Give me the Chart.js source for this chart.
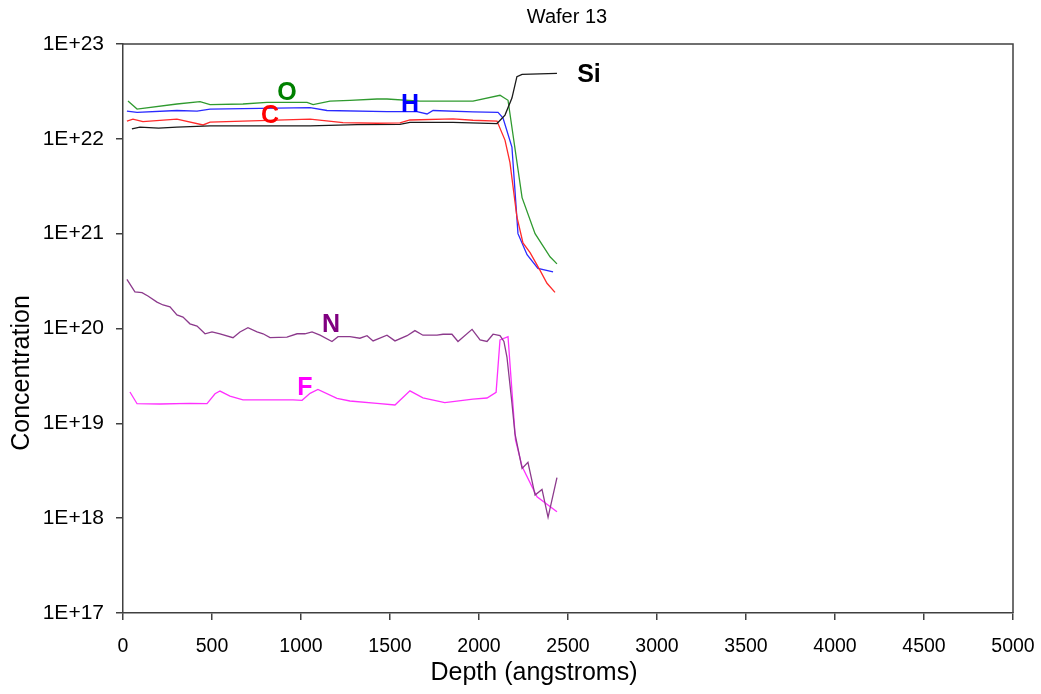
<!DOCTYPE html>
<html>
<head>
<meta charset="utf-8">
<script src="https://cdn.jsdelivr.net/npm/chart.js@4"></script>
<style>
  body { margin: 0; background: #fff; }
  canvas { display: block; }
</style>
</head>
<body>
<canvas id="waferChart" width="1041" height="694"></canvas>
<script>
// depth in angstroms, concentration in atoms/cm3
const siDepth = [50, 95, 200, 303, 489, 1051, 1315, 1556, 1612, 1854, 2101, 2146, 2185, 2213, 2242, 2438];
const siConc = [1.27e22, 1.33e22, 1.30e22, 1.33e22, 1.37e22, 1.37e22, 1.41e22, 1.42e22, 1.49e22, 1.49e22, 1.45e22, 1.78e22, 2.69e22, 4.52e22, 4.79e22, 4.9e22];

const cDepth = [22, 56, 112, 303, 450, 489, 674, 1051, 1236, 1427, 1556, 1612, 1854, 1966, 2101, 2146, 2174, 2213, 2247, 2287, 2343, 2382, 2427];
const cConc = [1.54e22, 1.61e22, 1.52e22, 1.61e22, 1.40e22, 1.50e22, 1.54e22, 1.61e22, 1.48e22, 1.46e22, 1.47e22, 1.58e22, 1.62e22, 1.57e22, 1.54e22, 9.7e21, 5.6e21, 1.5e21, 8.0e20, 6.3e20, 4.1e20, 3.0e20, 2.4e20];

const hDepth = [22, 79, 303, 416, 489, 1051, 1146, 1483, 1652, 1708, 1742, 1966, 2107, 2135, 2185, 2219, 2270, 2331, 2416];
const hConc = [1.96e22, 1.90e22, 1.99e22, 1.96e22, 2.06e22, 2.13e22, 1.99e22, 1.94e22, 1.94e22, 1.83e22, 1.99e22, 1.92e22, 1.90e22, 1.66e22, 8.2e21, 1.0e21, 6.0e20, 4.3e20, 3.95e20];

const oDepth = [28, 79, 303, 433, 489, 674, 809, 1034, 1068, 1163, 1275, 1427, 1483, 1668, 1966, 2118, 2163, 2242, 2315, 2399, 2438];
const oConc = [2.5e22, 2.06e22, 2.33e22, 2.47e22, 2.3e22, 2.33e22, 2.42e22, 2.42e22, 2.3e22, 2.5e22, 2.55e22, 2.63e22, 2.63e22, 2.5e22, 2.5e22, 2.88e22, 2.55e22, 2.4e21, 1.0e21, 5.7e20, 4.8e20];

const nDepth = [22, 67, 107, 140, 191, 225, 264, 303, 337, 376, 416, 461, 500, 545, 618, 657, 702, 753, 787, 826, 921, 978, 1022, 1062, 1107, 1174, 1208, 1275, 1331, 1371, 1405, 1483, 1528, 1596, 1640, 1685, 1764, 1798, 1848, 1882, 1961, 2006, 2045, 2079, 2118, 2140, 2157, 2185, 2202, 2242, 2275, 2315, 2354, 2388, 2438];
const nConc = [3.3e20, 2.43e20, 2.39e20, 2.2e20, 1.9e20, 1.77e20, 1.69e20, 1.39e20, 1.32e20, 1.12e20, 1.06e20, 0.88e20, 0.92e20, 0.88e20, 0.80e20, 0.92e20, 1.02e20, 0.92e20, 0.88e20, 0.80e20, 0.81e20, 0.88e20, 0.88e20, 0.92e20, 0.85e20, 0.73e20, 0.82e20, 0.82e20, 0.79e20, 0.84e20, 0.74e20, 0.85e20, 0.74e20, 0.84e20, 0.95e20, 0.85e20, 0.85e20, 0.87e20, 0.87e20, 0.73e20, 0.98e20, 0.76e20, 0.73e20, 0.87e20, 0.84e20, 0.73e20, 0.5e20, 1.64e19, 7.8e18, 3.35e18, 3.88e18, 1.75e18, 2.01e18, 1.02e18, 2.67e18];

const fDepth = [39, 79, 208, 376, 472, 517, 545, 601, 674, 955, 1006, 1051, 1095, 1202, 1275, 1427, 1528, 1612, 1685, 1808, 1966, 2045, 2096, 2118, 2163, 2205, 2242, 2326, 2438];
const fConc = [2.14e19, 1.61e19, 1.60e19, 1.62e19, 1.61e19, 2.05e19, 2.19e19, 1.94e19, 1.77e19, 1.77e19, 1.75e19, 2.07e19, 2.28e19, 1.83e19, 1.72e19, 1.62e19, 1.56e19, 2.2e19, 1.86e19, 1.65e19, 1.80e19, 1.85e19, 2.12e19, 7.56e19, 8.2e19, 6.7e18, 3.5e18, 1.68e18, 1.17e18];

const xTicks = [0, 500, 1000, 1500, 2000, 2500, 3000, 3500, 4000, 4500, 5000];
const yTicks = [1e17, 1e18, 1e19, 1e20, 1e21, 1e22, 1e23];
const yTickLabels = ['1E+17', '1E+18', '1E+19', '1E+20', '1E+21', '1E+22', '1E+23'];

// element labels placed in data space: [text, depth, concentration, colour]
const elementLabels = [
    ['O', 921, 3.04e22, '#008000'],
    ['C', 826, 1.74e22, '#ff0000'],
    ['H', 1612, 2.27e22, '#0000ff'],
    ['Si', 2618, 4.7e22, '#000000'],
    ['N', 1168, 1.09e20, '#800080'],
    ['F', 1022, 2.36e19, '#ff00ff']
];

function pts(xs, ys) {
    return xs.map((x, i) => ({ x: x, y: ys[i] }));
}

function series(data, color) {
    return { data: data, borderColor: color, borderWidth: 1.3, pointRadius: 0, tension: 0, fill: false };
}

const axisColor = '#404040';
const fontFamily = 'Arial, "Liberation Sans"';

function text(ctx, str, x, y, font, color) {
    ctx.save();
    ctx.font = font;
    ctx.fillStyle = color;
    ctx.textAlign = 'center';
    ctx.textBaseline = 'middle';
    ctx.fillText(str, x, y);
    ctx.restore();
}

const decorations = {
    id: 'decorations',
    afterDraw(chart) {
        const ctx = chart.ctx;
        const a = chart.chartArea;
        const xs = chart.scales.x, ys = chart.scales.y;
        ctx.save();
        ctx.strokeStyle = axisColor;
        ctx.lineWidth = 1.5;
        ctx.beginPath();
        ctx.moveTo(a.left, a.top);
        ctx.lineTo(a.right, a.top);
        ctx.lineTo(a.right, a.bottom);
        ctx.stroke();
        ctx.restore();

        text(ctx, 'Wafer 13', 567, 17, '20px ' + fontFamily, '#000');
        text(ctx, 'Depth (angstroms)', 534, 673, '25px ' + fontFamily, '#000');

        ctx.save();
        ctx.translate(22, 373);
        ctx.rotate(-Math.PI / 2);
        text(ctx, 'Concentration', 0, 0, '25px ' + fontFamily, '#000');
        ctx.restore();

        elementLabels.forEach(l => {
            text(ctx, l[0], xs.getPixelForValue(l[1]), ys.getPixelForValue(l[2]),
                'bold 25px ' + fontFamily, l[3]);
        });
    }
};

const ctx = document.getElementById('waferChart').getContext('2d');
new Chart(ctx, {
    type: 'line',
    data: {
        datasets: [
            series(pts(siDepth, siConc), '#1a1a1a'),
            series(pts(cDepth, cConc), '#ff2a2a'),
            series(pts(hDepth, hConc), '#2a2aff'),
            series(pts(oDepth, oConc), '#2f9a2f'),
            series(pts(nDepth, nConc), '#8c3a8c'),
            series(pts(fDepth, fConc), '#ff30ff')
        ]
    },
    options: {
        responsive: false,
        animation: false,
        devicePixelRatio: 1,
        layout: { padding: { top: 44, right: 28, left: 0, bottom: 0 } },
        plugins: {
            legend: { display: false },
            tooltip: { enabled: false }
        },
        scales: {
            x: {
                type: 'linear',
                min: 0,
                max: 5000,
                afterBuildTicks: s => { s.ticks = xTicks.map(v => ({ value: v })); },
                afterFit: s => { s.height = 81; s.paddingLeft = 0; s.paddingRight = 0; },
                ticks: {
                    color: '#000',
                    font: { family: fontFamily, size: 19.5 },
                    padding: 15,
                    maxRotation: 0,
                    callback: v => String(v)
                },
                grid: { drawOnChartArea: false, tickLength: 7, color: axisColor, lineWidth: 1.5 },
                border: { color: axisColor, width: 1.5 }
            },
            y: {
                type: 'logarithmic',
                min: 1e17,
                max: 1e23,
                afterBuildTicks: s => { s.ticks = yTicks.map(v => ({ value: v })); },
                afterFit: s => { s.width = 123; s.paddingTop = 0; s.paddingBottom = 0; },
                ticks: {
                    color: '#000',
                    font: { family: fontFamily, size: 21 },
                    padding: 12,
                    callback: (v, i) => yTickLabels[i]
                },
                grid: { drawOnChartArea: false, tickLength: 7, color: axisColor, lineWidth: 1.5 },
                border: { color: axisColor, width: 1.5 }
            }
        }
    },
    plugins: [decorations]
});
</script>
</body>
</html>
